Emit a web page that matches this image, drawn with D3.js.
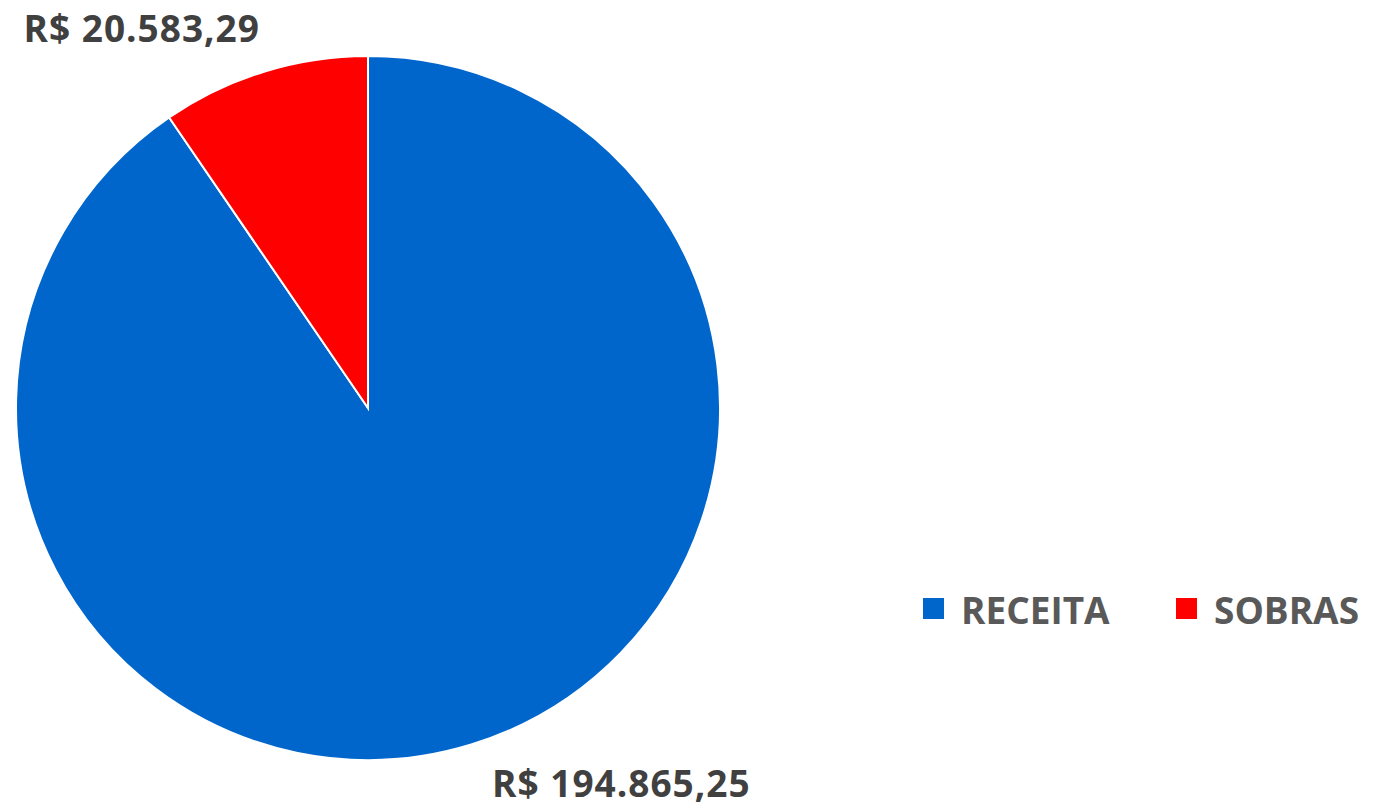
<!DOCTYPE html>
<html>
<head>
<meta charset="utf-8">
<script src="https://cdn.jsdelivr.net/npm/d3@7"></script>
<style>
  body { margin: 0; background: #fff; }
  svg { display: block; font-family: "Open Sans", sans-serif; }
</style>
</head>
<body>
<div id="chart"></div>
<script>
var categories = ["RECEITA", "SOBRAS"];
var values = [194865.25, 20583.29];
var valueLabels = ["R$ 194.865,25", "R$ 20.583,29"];
var colors = ["#0066cc", "#ff0000"];

var width = 1374, height = 812;
var cx = 368, cy = 408, radius = 352;

var svg = d3.select("#chart").append("svg")
  .attr("width", width)
  .attr("height", height);

var data = categories.map(function(c, i) {
  return { name: c, value: values[i], label: valueLabels[i], color: colors[i] };
});

var pie = d3.pie().sort(null).value(function(d) { return d.value; });
var arc = d3.arc().innerRadius(0).outerRadius(radius);
var outer = d3.arc().innerRadius(radius).outerRadius(radius);

var g = svg.append("g").attr("transform", "translate(" + cx + "," + cy + ")");

var arcs = pie(data);

g.selectAll("path")
  .data(arcs)
  .enter().append("path")
  .attr("d", arc)
  .attr("fill", function(d) { return d.data.color; })
  .attr("stroke", "#fff")
  .attr("stroke-width", 2);

// labels outside the end of each slice
g.selectAll("text.lbl")
  .data(arcs)
  .enter().append("text")
  .attr("class", "lbl")
  .attr("x", function(d) {
    var p = outer.centroid(d);
    return p[0] < 0 ? p[0] - 4 : p[0] + 20;
  })
  .attr("y", function(d) {
    var p = outer.centroid(d);
    return p[1] < 0 ? p[1] - 30 : p[1] + 53;
  })
  .attr("text-anchor", function(d) { return outer.centroid(d)[0] < 0 ? "end" : "start"; })
  .attr("font-size", 37)
  .attr("letter-spacing", 1)
  .attr("font-weight", "bold")
  .attr("fill", "#404040")
  .text(function(d) { return d.data.label; });

// legend
var legendX = [923, 1176];
var legend = svg.append("g");
var items = legend.selectAll("g")
  .data(data)
  .enter().append("g")
  .attr("transform", function(d, i) { return "translate(" + legendX[i] + ",598)"; });

items.append("rect")
  .attr("width", 21)
  .attr("height", 21)
  .attr("fill", function(d) { return d.color; });

items.append("text")
  .attr("x", 38)
  .attr("y", 26)
  .attr("font-size", 37)
  .attr("font-weight", "bold")
  .attr("fill", "#595959")
  .text(function(d) { return d.name; });
</script>
</body>
</html>
